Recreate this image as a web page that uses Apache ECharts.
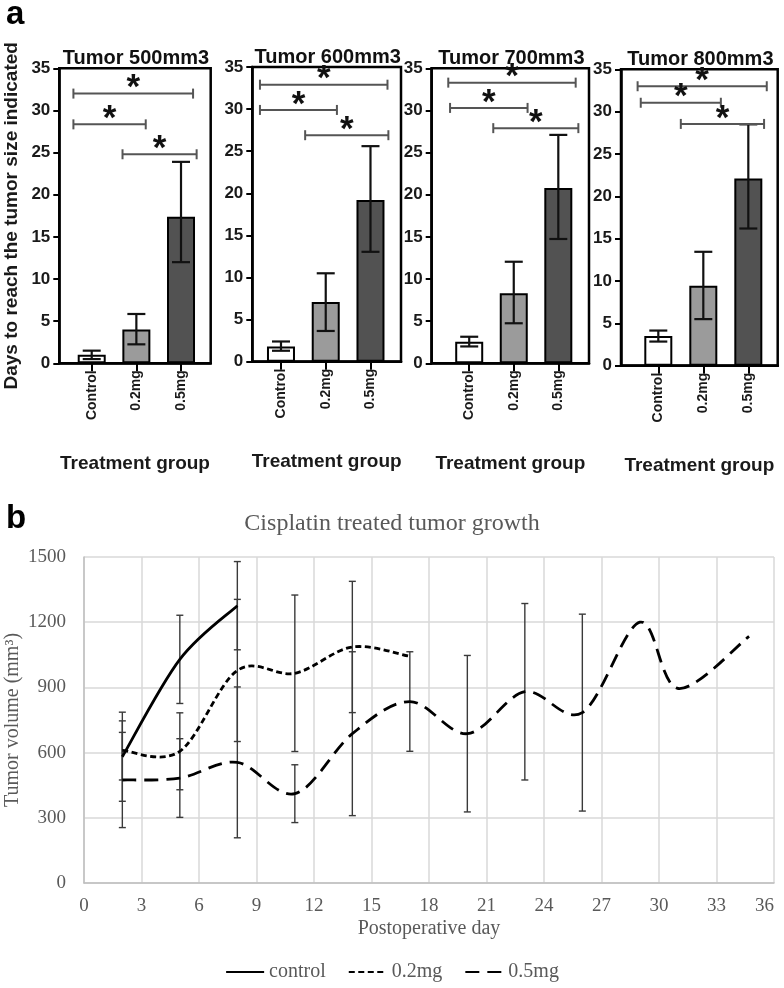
<!DOCTYPE html>
<html><head><meta charset="utf-8">
<script src="https://cdn.jsdelivr.net/npm/echarts@6/dist/echarts.min.js"></script>
<style>html,body{margin:0;padding:0;background:#fff}#c{width:784px;height:988px}</style>
</head><body><div id="c"></div>
<script>
// ---------- Panel a data ----------
const groups = ['Control', '0.2mg', '0.5mg'];
const sizeTitles = ['Tumor 500mm3', 'Tumor 600mm3', 'Tumor 700mm3', 'Tumor 800mm3'];
const daysMean = [[1.0, 4.0, 17.4], [1.8, 7.1, 19.2], [2.55, 8.3, 20.8], [3.5, 9.45, 22.1]];
const daysLow  = [[0.5, 2.25, 12.0], [1.3, 3.65, 13.05], [2.0, 4.75, 14.75], [2.85, 5.5, 16.2]];
const daysHigh = [[1.5, 5.85, 23.9], [2.4, 10.5, 25.6], [3.15, 12.05, 27.1], [4.15, 13.45, 28.5]];
// significance brackets: [from, to, height] in group units / days
const sigBrackets = [
  [[0.59, 3.27, 32.0], [0.59, 2.21, 28.35], [1.69, 3.35, 24.8]],
  [[0.53, 3.38, 32.9], [0.53, 2.25, 29.9], [1.54, 3.40, 26.9]],
  [[0.53, 3.39, 33.3], [0.57, 2.31, 30.3], [1.54, 3.45, 27.9]],
  [[0.54, 3.41, 33.0], [0.61, 2.39, 31.05], [1.50, 3.35, 28.55]]
];

// ---------- Panel b data ----------
const ctrlDays = [2, 5, 8];
const ctrlVol  = [581, 1029, 1276];
const ctrlErr  = [205, 203, 203];
const mg02Days = [2, 5, 8, 11, 14, 17];
const mg02Vol  = [610, 606, 978, 965, 1086, 1043];
const mg02Err  = [136, 177, 327, 360, 302, null];
const mg05Days = [2, 5, 8, 11, 14, 17, 20, 23, 26, 29, 31, 34.7];
const mg05Vol  = [474, 483, 555, 411, 687, 835, 687, 880, 784, 1200, 895, 1135];
const mg05Err  = [219, 181, 347, 133, 377, 229, 360, 406, 453, null, null, null];

// ---------- layout ----------
const frames = [
  {left: 59.3, top: 68.3, width: 151.4, height: 295, xmin: 0.274, xmax: 3.665},
  {left: 252.3, top: 67, width: 148.7, height: 294.7, xmin: 0.359, xmax: 3.682},
  {left: 431.7, top: 68.3, width: 157.3, height: 295, xmin: 0.158, xmax: 3.689},
  {left: 621, top: 69.3, width: 156.7, height: 296.4, xmin: 0.171, xmax: 3.653}
];
const barColors = ['#ffffff', '#9b9b9b', '#525252'];
const SANS = '"Liberation Sans", Arial, sans-serif';
const SERIF = '"Liberation Serif", "Times New Roman", serif';

const grids = [], xAxes = [], yAxes = [], series = [], graphics = [];

frames.forEach((f, i) => {
  grids.push({left: f.left, top: f.top, width: f.width, height: f.height, outerBoundsMode: 'none',
    show: true, borderColor: '#000', borderWidth: 2.5, backgroundColor: 'transparent'});
  xAxes.push({
    gridIndex: i, type: 'value', min: f.xmin, max: f.xmax,
    axisLine: {show: true, onZero: false, lineStyle: {color: '#000', width: 2.5}},
    axisTick: {show: true, customValues: [1, 2, 3], length: 8, lineStyle: {color: '#000', width: 2}},
    axisLabel: {customValues: [1, 2, 3], rotate: 90, margin: 7,
      formatter: v => groups[Math.round(v) - 1],
      fontSize: 14, fontWeight: 'bold', color: '#1a1a1a', fontFamily: SANS},
    splitLine: {show: false},
    name: 'Treatment group', nameLocation: 'middle', nameGap: 91, nameMoveOverlap: false,
    nameTextStyle: {fontSize: 19, fontWeight: 'bold', color: '#1a1a1a', fontFamily: SANS}
  });
  yAxes.push({
    gridIndex: i, type: 'value', min: 0, max: 35, interval: 5,
    axisLine: {show: true, lineStyle: {color: '#000', width: 2.5}},
    axisTick: {show: true, length: 6, lineStyle: {color: '#000', width: 2}},
    axisLabel: {margin: 9, fontSize: 17, fontWeight: 'bold', color: '#1a1a1a', fontFamily: SANS},
    splitLine: {show: false},
    name: i === 0 ? 'Days to reach the tumor size indicated' : '',
    nameLocation: 'middle', nameGap: 38,
    nameTextStyle: {fontSize: 19, fontWeight: 'bold', color: '#1a1a1a', fontFamily: SANS}
  });
  series.push({
    type: 'bar', xAxisIndex: i, yAxisIndex: i, barWidth: 28,
    data: daysMean[i].map((v, k) => ({value: [k + 1, v],
      itemStyle: {color: barColors[k], borderColor: '#000', borderWidth: 2}})),
    silent: true
  });
  series.push({
    type: 'custom', xAxisIndex: i, yAxisIndex: i, clip: false,
    data: daysMean[i].map((v, k) => [k + 1, daysLow[i][k], daysHigh[i][k]]),
    encode: {x: 0, y: [1, 2]},
    renderItem: (p, api) => {
      const lo = api.coord([api.value(0), api.value(1)]);
      const hi = api.coord([api.value(0), api.value(2)]);
      const st = {stroke: '#111', lineWidth: 2.2};
      const h = 9;
      return {type: 'group', children: [
        {type: 'line', shape: {x1: lo[0], y1: lo[1], x2: hi[0], y2: hi[1]}, style: st},
        {type: 'line', shape: {x1: hi[0] - h, y1: hi[1], x2: hi[0] + h, y2: hi[1]}, style: st},
        {type: 'line', shape: {x1: lo[0] - h, y1: lo[1], x2: lo[0] + h, y2: lo[1]}, style: st}
      ]};
    },
    z: 5
  });
  series.push({
    type: 'custom', xAxisIndex: i, yAxisIndex: i, clip: false,
    data: sigBrackets[i],
    encode: {x: [0, 1], y: 2},
    renderItem: (p, api) => {
      const a = api.coord([api.value(0), api.value(2)]);
      const b = api.coord([api.value(1), api.value(2)]);
      const st = {stroke: '#555', lineWidth: 2};
      return {type: 'group', children: [
        {type: 'line', shape: {x1: a[0], y1: a[1], x2: b[0], y2: b[1]}, style: st},
        {type: 'line', shape: {x1: a[0], y1: a[1] - 5, x2: a[0], y2: a[1] + 5}, style: st},
        {type: 'line', shape: {x1: b[0], y1: b[1] - 5, x2: b[0], y2: b[1] + 5}, style: st},
        {type: 'text', x: (a[0] + b[0]) / 2, y: a[1] - 5,
          style: {text: '*', font: 'bold 35px ' + SANS, textAlign: 'center',
            textVerticalAlign: 'middle', fill: '#111'}}
      ]};
    },
    z: 6
  });
  graphics.push({type: 'text', x: f.left + f.width / 2 + 1, y: f.top - 10,
    style: {text: sizeTitles[i], font: 'bold 20px ' + SANS, textAlign: 'center',
      textVerticalAlign: 'middle', fill: '#111'}, z: 10});
});

// ---------- Panel b ----------
const gi = 4;
grids.push({left: 84, top: 557, width: 690, height: 326, outerBoundsMode: 'none'});
xAxes.push({
  gridIndex: gi, type: 'value', min: 0, max: 36, interval: 3,
  axisLine: {show: true, lineStyle: {color: '#bfbfbf', width: 1.5}},
  axisTick: {show: false},
  axisLabel: {margin: 14, fontSize: 19, color: '#595959', fontFamily: SERIF, alignMaxLabel: 'right'},
  splitLine: {show: true, lineStyle: {color: '#d9d9d9', width: 1.5}},
  name: 'Postoperative day', nameLocation: 'middle', nameGap: 36, nameMoveOverlap: false,
  nameTextStyle: {fontSize: 20, color: '#595959', fontFamily: SERIF}
});
yAxes.push({
  gridIndex: gi, type: 'value', min: 0, max: 1500, interval: 300,
  axisLine: {show: true, lineStyle: {color: '#bfbfbf', width: 1.5}},
  axisTick: {show: false},
  axisLabel: {margin: 18, fontSize: 19, color: '#595959', fontFamily: SERIF, formatter: v => String(v)},
  splitLine: {show: true, lineStyle: {color: '#d9d9d9', width: 1.5}},
  name: 'Tumor volume (mm³)', nameLocation: 'middle', nameGap: 61, nameMoveOverlap: false,
  nameTextStyle: {fontSize: 20, color: '#595959', fontFamily: SERIF}
});

function errSeries(days, vol, err) {
  const data = [];
  days.forEach((d, k) => { if (err[k] != null) data.push([d, vol[k] - err[k], vol[k] + err[k]]); });
  return {
    type: 'custom', xAxisIndex: gi, yAxisIndex: gi, clip: false, data,
    encode: {x: 0, y: [1, 2]},
    renderItem: (p, api) => {
      const lo = api.coord([api.value(0), api.value(1)]);
      const hi = api.coord([api.value(0), api.value(2)]);
      const st = {stroke: '#3a3a3a', lineWidth: 1.4};
      const h = 3.5;
      return {type: 'group', children: [
        {type: 'line', shape: {x1: lo[0], y1: lo[1], x2: hi[0], y2: hi[1]}, style: st},
        {type: 'line', shape: {x1: hi[0] - h, y1: hi[1], x2: hi[0] + h, y2: hi[1]}, style: st},
        {type: 'line', shape: {x1: lo[0] - h, y1: lo[1], x2: lo[0] + h, y2: lo[1]}, style: st}
      ]};
    },
    z: 3
  };
}
// Excel-style smoothed curve (Catmull-Rom through the data points, in pixel space)
function curveSeries(days, vol, dash) {
  return {
    type: 'custom', xAxisIndex: gi, yAxisIndex: gi, clip: false,
    data: days.map((d, k) => [d, vol[k]]),
    encode: {x: 0, y: 1},
    renderItem: (p, api) => {
      if (p.dataIndex !== 0) return null;
      const pts = days.map((d, k) => api.coord([d, vol[k]]));
      const n = pts.length;
      let path = 'M' + pts[0][0] + ' ' + pts[0][1];
      for (let k = 0; k < n - 1; k++) {
        const p0 = pts[Math.max(k - 1, 0)], p1 = pts[k], p2 = pts[k + 1], p3 = pts[Math.min(k + 2, n - 1)];
        const c1x = p1[0] + (p2[0] - p0[0]) / 6, c1y = p1[1] + (p2[1] - p0[1]) / 6;
        const c2x = p2[0] - (p3[0] - p1[0]) / 6, c2y = p2[1] - (p3[1] - p1[1]) / 6;
        path += ' C' + c1x + ' ' + c1y + ' ' + c2x + ' ' + c2y + ' ' + p2[0] + ' ' + p2[1];
      }
      return {type: 'path', shape: {pathData: path},
        style: {stroke: '#000', fill: null, lineWidth: 2.8, lineDash: dash, lineCap: 'butt'}};
    },
    z: 4
  };
}
// legend-only line series (carry the names and line styles)
function legendSeries(name, dash) {
  return {
    name, type: 'line', xAxisIndex: gi, yAxisIndex: gi, symbol: 'none', data: [],
    lineStyle: {color: '#000', width: 2.8, type: dash}, itemStyle: {color: '#000'}
  };
}
series.push(errSeries(ctrlDays, ctrlVol, ctrlErr));
series.push(errSeries(mg02Days, mg02Vol, mg02Err));
series.push(errSeries(mg05Days, mg05Vol, mg05Err));
series.push(curveSeries(ctrlDays, ctrlVol, null));
series.push(curveSeries(mg02Days, mg02Vol, [6, 3.5]));
series.push(curveSeries(mg05Days, mg05Vol, [14, 8]));
series.push(legendSeries('control', 'solid'));
series.push(legendSeries('0.2mg', [6, 3.5]));
series.push(legendSeries('0.5mg', [14, 8]));

graphics.push({type: 'text', x: 6, y: 15,
  style: {text: 'a', font: 'bold 33px ' + SANS, textAlign: 'left', textVerticalAlign: 'middle', fill: '#000'}});
graphics.push({type: 'text', x: 6, y: 519,
  style: {text: 'b', font: 'bold 33px ' + SANS, textAlign: 'left', textVerticalAlign: 'middle', fill: '#000'}});
// y-axis title of panel b (placed as text so it is not pushed off the canvas)
graphics.push({type: 'text', x: 13, y: 720, rotation: Math.PI / 2,
  style: {text: 'Tumor volume (mm³)', font: '20px ' + SERIF, textAlign: 'center',
    textVerticalAlign: 'middle', fill: '#595959'}});
yAxes[4].name = '';

const chart = echarts.init(document.getElementById('c'), null, {renderer: 'canvas'});
chart.setOption({
  animation: false,
  backgroundColor: '#fff',
  title: {text: 'Cisplatin treated tumor growth', left: 'center', top: 512, padding: 0,
    textStyle: {fontSize: 24, fontWeight: 'normal', color: '#595959', fontFamily: SERIF}},
  legend: {data: ['control', '0.2mg', '0.5mg'], left: 'center', top: 957,
    itemWidth: 38, itemHeight: 14, itemGap: 22, itemStyle: {opacity: 0},
    textStyle: {fontSize: 20, color: '#595959', fontFamily: SERIF}},
  grid: grids, xAxis: xAxes, yAxis: yAxes, series, graphic: graphics
});
</script></body></html>
